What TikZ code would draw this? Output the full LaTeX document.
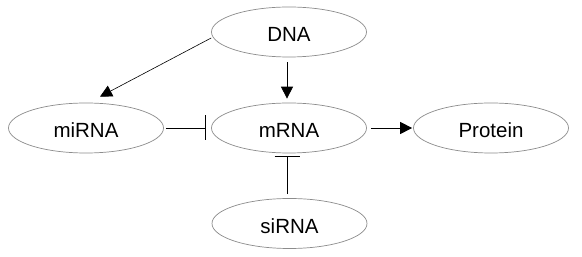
\documentclass[tikz,border=0pt]{standalone}
\usepackage{fontspec}
\setmainfont{Liberation Sans}
\usetikzlibrary{shapes.geometric,arrows.meta}
\begin{document}
\begin{tikzpicture}[x=1pt,y=1pt,
  ell/.style={ellipse, draw=black!45, line width=0.7pt, minimum width=155pt, minimum height=50pt, inner sep=0pt,
    font=\fontsize{20.5}{24}\selectfont, text height=19.7pt, text depth=0pt},
  conn/.style={line width=0.8pt, black},
  act/.style={conn, -{Triangle[length=12pt,width=12pt]}},
  inh/.style={conn, -{Bar[width=25pt]}}]
\useasboundingbox (0,0) rectangle (582,257);
\fill[white] (0,0) rectangle (582,257);
\node[ell] (dna) at (289,225) {DNA};
\node[ell] (mirna) at (86,129) {miRNA};
\node[ell] (mrna) at (289,129) {mRNA};
\node[ell] (protein) at (491,129) {Protein};
\node[ell] (sirna) at (289.5,33.5) {siRNA};
\draw[act, shorten <=5pt, shorten >=4pt] ([xshift=-2pt]dna.south) -- ([xshift=-2pt]mrna.north);
\draw[act, line width=0.6pt] ([yshift=-6pt]dna.west) -- ([xshift=14pt,yshift=6pt]mirna.north);
\draw[inh, shorten <=2pt, shorten >=5pt] (mirna.east) -- (mrna.west);
\draw[act, shorten <=4pt, shorten >=1pt] (mrna.east) -- (protein.west);
\draw[inh, shorten <=4pt, shorten >=3pt] ([xshift=-2.5pt]sirna.north) -- ([xshift=-2pt]mrna.south);
\end{tikzpicture}
\end{document}
